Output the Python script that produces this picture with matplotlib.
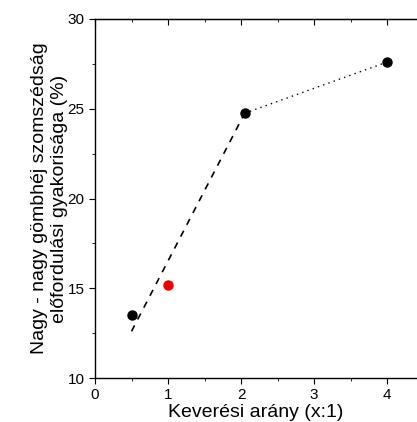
import matplotlib
matplotlib.use("Agg")
import matplotlib.pyplot as plt
from matplotlib.ticker import MultipleLocator, NullFormatter

plt.rcParams['font.family'] = ['Liberation Sans', 'DejaVu Sans']

x_black = [0.5, 2.05, 4.0]
y_black = [13.5, 24.75, 27.6]
x_red = [1.0]
y_red = [15.2]
fit_dash_x = [0.5, 2.05]
fit_dash_y = [12.6, 24.75]
fit_dot_x = [2.05, 4.0]
fit_dot_y = [24.75, 27.6]

fig = plt.figure(figsize=(4.17, 4.22), dpi=100)
ax = fig.add_axes([95/417, 1-378/422, 322/417, 359/422])

ax.plot(fit_dash_x, fit_dash_y, color='black', linestyle=(0, (4, 4)), linewidth=1.2)
ax.plot(fit_dot_x, fit_dot_y, color='black', linestyle=(0, (1, 3)), linewidth=1.0)
ax.plot(x_black, y_black, 'o', color='black', markersize=6.5)
ax.plot(x_red, y_red, 'o', color='#ee0000', markersize=6.5)

ax.set_xlim(0, 4.41)
ax.set_ylim(10, 30)
ax.xaxis.set_major_locator(MultipleLocator(1))
ax.xaxis.set_minor_locator(MultipleLocator(0.5))
ax.yaxis.set_major_locator(MultipleLocator(5))
ax.yaxis.set_minor_locator(MultipleLocator(2.5))
ax.spines['right'].set_visible(False)
for s in ['left', 'bottom', 'top']:
    ax.spines[s].set_linewidth(1.0)
ax.tick_params(which='both', direction='out', labelsize=11)
ax.tick_params(which='major', length=4)
ax.tick_params(which='minor', length=2.5)

top = ax.secondary_xaxis('top')
top.xaxis.set_major_locator(MultipleLocator(1))
top.xaxis.set_minor_locator(MultipleLocator(0.5))
top.xaxis.set_major_formatter(NullFormatter())
top.tick_params(which='both', direction='in')
top.tick_params(which='major', length=4)
top.tick_params(which='minor', length=2.5)

ax.set_xlabel('Keverési arány (x:1)', fontsize=14, labelpad=1)
ax.set_ylabel('Nagy - nagy gömbhéj szomszédság\nelőfordulási gyakorisága (%)', fontsize=14, labelpad=0)

fig.savefig('out.png', dpi=100)
